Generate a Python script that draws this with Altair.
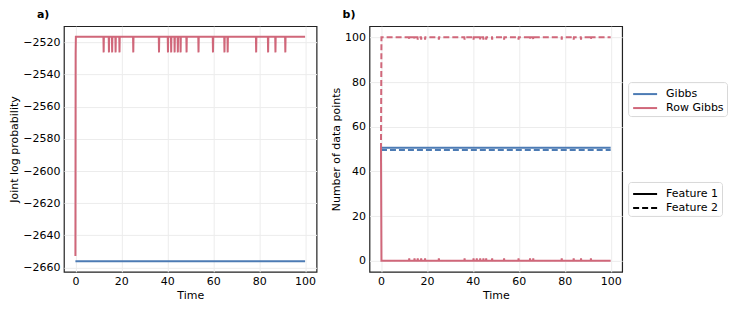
import altair as alt
import pandas as pd

# ---- data ----
methods = ["Gibbs", "Row Gibbs"]
method_colors = ["#4C7BB4", "#D0677A"]
features = ["Feature 1", "Feature 2"]

# times at which Row Gibbs briefly moves one point (dips / spikes)
spike_times = [12.3, 14.6, 16.0, 17.5, 19.2, 25.2, 36.4, 40.3, 41.7, 43.2, 44.6,
               45.8, 48.4, 53.6, 59.9, 64.9, 66.3, 78.7, 83.9, 87.1, 91.4]
spike_half_width = 0.1
t_start, t_end = 0.0, 100.0

# panel a: joint log probability
gibbs_logp = -2656.1
row_start_times = [0.0, 0.1, 0.2]
row_start_logp = [-2652.8, -2527.0, -2516.5]
row_level_logp = -2516.5
row_spike_logp = -2526.2

# panel b: number of data points per feature
gibbs_f1 = 50.6
gibbs_f2 = 49.6
row_start_times_b = [0.0, 0.2]
row_f1_start = [50.0, 0.0]
row_f2_start = [50.0, 100.0]
row_f1_level, row_f1_spike = 0.0, 1.0
row_f2_level, row_f2_spike = 100.0, 99.0

x_ticks = [0, 20, 40, 60, 80, 100]
ya_ticks = [-2660, -2640, -2620, -2600, -2580, -2560, -2540, -2520]
yb_ticks = [0, 20, 40, 60, 80, 100]


def spiky(start_t, start_v, level, spike):
    ts, vs = list(start_t), list(start_v)
    for t in spike_times:
        ts += [t - spike_half_width, t, t + spike_half_width]
        vs += [level, spike, level]
    ts.append(t_end)
    vs.append(level)
    return ts, vs


rows_a = []
for t, v in [(t_start, gibbs_logp), (t_end, gibbs_logp)]:
    rows_a.append({"time": t, "value": v, "method": "Gibbs"})
ts, vs = spiky(row_start_times, row_start_logp, row_level_logp, row_spike_logp)
for t, v in zip(ts, vs):
    rows_a.append({"time": t, "value": v, "method": "Row Gibbs"})
dfa = pd.DataFrame(rows_a)

rows_b = []
for feat, val in [("Feature 1", gibbs_f1), ("Feature 2", gibbs_f2)]:
    for t in (t_start, t_end):
        rows_b.append({"time": t, "value": val, "method": "Gibbs", "feature": feat})
for feat, st, lv, sp in [("Feature 1", row_f1_start, row_f1_level, row_f1_spike),
                         ("Feature 2", row_f2_start, row_f2_level, row_f2_spike)]:
    ts, vs = spiky(row_start_times_b, st, lv, sp)
    for t, v in zip(ts, vs):
        rows_b.append({"time": t, "value": v, "method": "Row Gibbs", "feature": feat})
dfb = pd.DataFrame(rows_b)

FONT = "DejaVu Sans"
LINE_SYMBOL = "M-1.5,0H1.5"

xenc = alt.X("time:Q", scale=alt.Scale(domain=[-5, 105], nice=False, zero=False),
             axis=alt.Axis(title="Time", values=x_ticks, format="d"))
color_enc = alt.Color("method:N", scale=alt.Scale(domain=methods, range=method_colors),
                      legend=alt.Legend(title=None, orient="none", legendX=565, legendY=56))

left = alt.Chart(dfa).mark_line(strokeWidth=2, clip=True).encode(
    x=xenc,
    y=alt.Y("value:Q", scale=alt.Scale(domain=[-2662.7, -2509.9], nice=False, zero=False),
            axis=alt.Axis(title="Joint log probability", values=ya_ticks, format="d")),
    color=color_enc,
).properties(width=253, height=246,
             title=alt.TitleParams("a)", anchor="start", frame="group", dx=-27,
                                   fontWeight="bold", fontSize=11, font=FONT, offset=6))

right = alt.Chart(dfb).mark_line(strokeWidth=2, clip=True).encode(
    x=xenc,
    y=alt.Y("value:Q", scale=alt.Scale(domain=[-5, 105], nice=False, zero=False),
            axis=alt.Axis(title="Number of data points", values=yb_ticks, format="d")),
    color=color_enc,
    strokeDash=alt.StrokeDash("feature:N",
                              scale=alt.Scale(domain=features, range=[[1, 0], [6, 3]]),
                              legend=alt.Legend(title=None, orient="none", legendX=565,
                                                legendY=156, symbolStrokeColor="black")),
).properties(width=253, height=246,
             title=alt.TitleParams("b)", anchor="start", frame="group", dx=-27,
                                   fontWeight="bold", fontSize=11, font=FONT, offset=6))

chart = alt.hconcat(left, right, spacing=12).resolve_scale(y="independent").properties(
    padding={"left": 0, "top": 0, "right": 0, "bottom": 0}
).configure(
    font=FONT
).configure_view(
    stroke="#222222", strokeWidth=1.2
).configure_axis(
    grid=True, gridColor="#ececec", gridWidth=1, domain=False, ticks=False,
    labelFont=FONT, labelFontSize=11, labelColor="black", labelPadding=4,
    titleFont=FONT, titleFontSize=11, titleFontWeight="normal", titleColor="black",
    titlePadding=3
).configure_legend(
    strokeColor="#d8d8d8", fillColor="white", cornerRadius=3, padding=3,
    labelFont=FONT, labelFontSize=11, labelColor="black", symbolType=LINE_SYMBOL,
    symbolSize=256, symbolStrokeWidth=2, symbolOffset=5, rowPadding=0, labelOffset=12
).configure_title(anchor="start")

chart.save("out.html", embed_options={"renderer": "svg", "actions": False})
